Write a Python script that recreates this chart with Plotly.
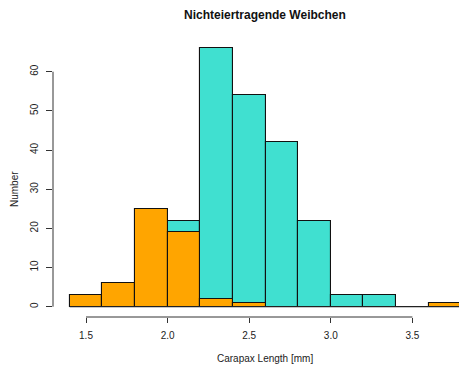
import plotly.graph_objects as go

# Histogram bins (carapax length, mm): lower edges, width 0.2
bin_lower = [1.4, 1.6, 1.8, 2.0, 2.2, 2.4, 2.6, 2.8, 3.0, 3.2, 3.4, 3.6]
bin_width = 0.2

# Counts per bin for the two groups
counts_turquoise = [0, 0, 0, 22, 66, 54, 42, 22, 3, 3, 0, 0]
counts_orange = [3, 6, 25, 19, 2, 1, 0, 0, 0, 0, 0, 1]

x_ticks = [1.5, 2.0, 2.5, 3.0, 3.5]
x_tick_labels = ["1.5", "2.0", "2.5", "3.0", "3.5"]
y_ticks = [0, 10, 20, 30, 40, 50, 60]

title_text = "Nichteiertragende Weibchen"
x_title = "Carapax Length [mm]"
y_title = "Number"

centers = [b + bin_width / 2 for b in bin_lower]
font_family = "Liberation Sans, Arial, sans-serif"

W, H = 459, 369
ML, MR, MT, MB = 53, 0, 38, 52
plot_w = W - ML - MR

fig = go.Figure()

# zero-count baseline across the histogram span
fig.add_trace(go.Scatter(
    x=[bin_lower[0], bin_lower[-1] + bin_width], y=[0, 0],
    mode="lines", line=dict(color="#222222", width=1.2),
    hoverinfo="skip", showlegend=False,
))

for counts, color in ((counts_turquoise, "#40E0D0"), (counts_orange, "#FFA500")):
    fig.add_trace(go.Bar(
        x=centers, y=counts, width=[bin_width] * len(centers),
        marker=dict(color=color, line=dict(color="#111111", width=1.1)),
        showlegend=False,
    ))

x_range = [1.2978, 1.2978 + plot_w / 163.2]

fig.update_layout(
    width=W, height=H,
    margin=dict(l=ML, r=MR, t=MT, b=MB),
    paper_bgcolor="white", plot_bgcolor="white",
    barmode="overlay", bargap=0,
    font=dict(family=font_family, size=10, color="#222222"),
    xaxis=dict(
        range=x_range, showgrid=False, zeroline=False, showline=False,
        tickmode="array", tickvals=x_ticks, ticktext=x_tick_labels,
        ticks="outside", ticklen=5, tickwidth=1, tickcolor="#333333",
        ticklabelstandoff=4,
    ),
    yaxis=dict(
        range=[-2.63, 68.6], showgrid=False, zeroline=False, showline=False,
        tickmode="array", tickvals=y_ticks,
        ticks="outside", ticklen=6, tickwidth=1, tickcolor="#333333",
        tickangle=-90, ticklabelstandoff=4,
    ),
    shapes=[
        # axis lines spanning first to last tick
        dict(type="line", xref="x", yref="paper", x0=x_ticks[0], x1=x_ticks[-1],
             y0=0, y1=0, line=dict(color="#333333", width=1)),
        dict(type="line", xref="paper", yref="y", x0=0, x1=0,
             y0=y_ticks[0], y1=y_ticks[-1], line=dict(color="#333333", width=1)),
    ],
    annotations=[
        dict(text="<b>" + title_text + "</b>", xref="paper", yref="paper",
             x=(265 - ML) / plot_w, y=1 + (MT - 15) / (H - MT - MB),
             xanchor="center", yanchor="middle", showarrow=False,
             font=dict(size=12, color="#111111")),
        dict(text=x_title, xref="paper", yref="paper",
             x=(265 - ML) / plot_w, y=-(358 - (H - MB)) / (H - MT - MB),
             xanchor="center", yanchor="middle", showarrow=False,
             font=dict(size=10)),
        dict(text=y_title, xref="paper", yref="paper", textangle=-90,
             x=(14 - ML) / plot_w, y=(H - MB - 189) / (H - MT - MB),
             xanchor="center", yanchor="middle", showarrow=False,
             font=dict(size=10)),
    ],
)

fig.write_html("out.html")
